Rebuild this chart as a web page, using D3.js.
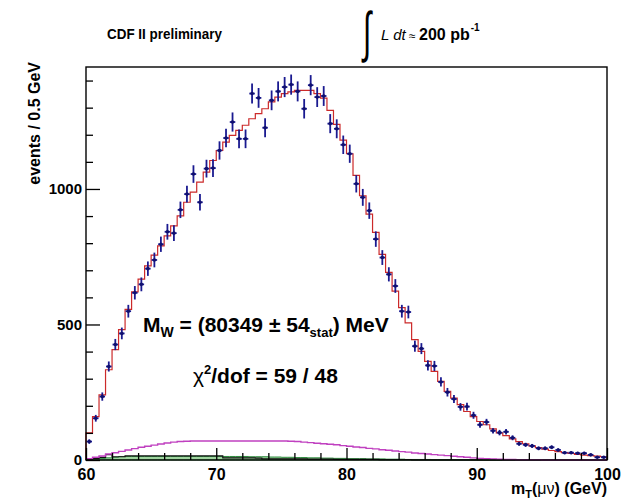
<!DOCTYPE html>
<html>
<head>
<meta charset="utf-8">
<script src="https://cdn.jsdelivr.net/npm/d3@7"></script>
<style>
  body { margin: 0; background: #fff; }
  text { font-family: "Liberation Sans", Arial, sans-serif; }
</style>
</head>
<body>
<div id="chart"></div>
<script>
// m_T bins: 60..100 GeV, 0.5 GeV wide
const binStart = 60;
const binWidth = 0.5;

// observed events per bin (blue points)
const dataCounts = [
  68, 154, 234, 345, 426, 467, 549, 617, 648, 706,
  738, 796, 842, 837, 923, 981, 1055, 951, 1075, 1077,
  1142, 1188, 1247, 1185, 1185, 1352, 1336, 1226, 1327, 1360,
  1376, 1385, 1360, 1296, 1383, 1339, 1343, 1241, 1222, 1163,
  1130, 1019, 969, 920, 815, 747, 685, 642, 549, 546,
  420, 411, 349, 347, 288, 250, 225, 196, 197, 165,
  130, 140, 108, 101, 104, 82, 60, 56, 52, 43,
  43, 47, 37, 27, 27, 25, 25, 19, 10, 10
];

// best fit template (red histogram)
const fitCounts = [
  100, 160, 240, 333, 407, 481, 556, 620, 667, 716,
  756, 790, 827, 864, 901, 951, 988, 1025, 1062, 1105,
  1142, 1173, 1198, 1216, 1235, 1259, 1278, 1296, 1321, 1339,
  1352, 1358, 1364, 1364, 1364, 1352, 1335, 1290, 1238, 1180,
  1130, 1050, 975, 907, 840, 759, 692, 623, 562, 506,
  444, 401, 364, 327, 290, 253, 228, 204, 179, 160,
  142, 130, 115, 100, 90, 78, 68, 60, 52, 46,
  40, 35, 31, 27, 24, 21, 18, 16, 14, 12
];

// backgrounds
const bkgMagenta = [
  5, 10, 15, 22, 27, 32, 37, 42, 47, 51,
  55, 59, 63, 66, 68, 69, 70, 70, 70, 70,
  70, 70, 70, 70, 70, 70, 70, 70, 70, 70,
  70, 69, 68, 66, 64, 62, 60, 58, 56, 53,
  51, 48, 46, 43, 41, 38, 36, 33, 31, 29,
  26, 24, 22, 20, 18, 16, 14, 12, 10, 8,
  6, 5, 4, 3, 2, 2, 1, 1, 1, 1,
  0, 0, 0, 0, 0, 0, 0, 0, 0, 0
];
const bkgGreen = [
  2, 4, 6, 8, 10, 13, 13, 13, 13, 13,
  13, 13, 13, 13, 13, 13, 13, 13, 13, 13,
  13, 13, 13, 13, 13, 12, 12, 12, 11, 11,
  10, 10, 9, 9, 8, 8, 7, 7, 6, 6,
  5, 5, 5, 4, 4, 4, 3, 3, 3, 2,
  2, 2, 2, 1, 1, 1, 1, 1, 1, 1,
  0, 0, 0, 0, 0, 0, 0, 0, 0, 0,
  0, 0, 0, 0, 0, 0, 0, 0, 0, 0
];
const bkgBlack = [
  3, 6, 10, 20, 12, 12, 15, 15, 15, 15,
  15, 15, 15, 15, 15, 15, 15, 15, 15, 15,
  15, 8, 8, 8, 8, 8, 7, 4, 4, 4,
  4, 4, 4, 4, 3, 3, 3, 3, 2, 2,
  2, 2, 2, 2, 2, 1, 1, 1, 1, 1,
  0, 0, 0, 0, 0, 0, 0, 0, 0, 0,
  0, 0, 0, 0, 0, 0, 0, 0, 0, 0,
  0, 0, 0, 0, 0, 0, 0, 0, 0, 0
];

const xMajorTicks = [60, 70, 80, 90, 100];
const xMinorTicks = [62, 64, 66, 68, 72, 74, 76, 78, 82, 84, 86, 88, 92, 94, 96, 98];
const yMajorTicks = [0, 500, 1000];
const yMinorTicks = [100, 200, 300, 400, 600, 700, 800, 900, 1100, 1200, 1300, 1400];

const width = 633;
const height = 502;
const margin = { left: 86, right: 26, top: 67, bottom: 42 };

const svg = d3.select("#chart")
  .append("svg")
  .attr("width", width)
  .attr("height", height);

const xScale = d3.scaleLinear()
  .domain([60, 100])
  .range([margin.left, width - margin.right]);

const yScale = d3.scaleLinear()
  .domain([0, 1450])
  .range([height - margin.bottom, margin.top]);

const binLo = i => binStart + i * binWidth;

// step line for a histogram
function stepPath(values) {
  const pts = [];
  values.forEach((v, i) => {
    pts.push([xScale(binLo(i)), yScale(v)]);
    pts.push([xScale(binLo(i + 1)), yScale(v)]);
  });
  return pts;
}
const line = d3.line();

const plot = svg.append("g");

// green background (filled)
const greenPts = stepPath(bkgGreen);
plot.append("path")
  .attr("d", d3.area()
    .x(d => d[0])
    .y0(yScale(0))
    .y1(d => d[1])(greenPts))
  .attr("fill", "#9fd49f")
  .attr("stroke", "#2e8b3e")
  .attr("stroke-width", 1);

plot.append("path")
  .attr("d", line(stepPath(bkgBlack)))
  .attr("fill", "none")
  .attr("stroke", "#111")
  .attr("stroke-width", 1.2);

plot.append("path")
  .attr("d", line(stepPath(bkgMagenta)))
  .attr("fill", "none")
  .attr("stroke", "#c040c0")
  .attr("stroke-width", 1.4);

plot.append("path")
  .attr("d", line([[xScale(60), yScale(0)], ...stepPath(fitCounts), [xScale(100), yScale(0)]]))
  .attr("fill", "none")
  .attr("stroke", "#cc2a2a")
  .attr("stroke-width", 1.2);

// data points with error bars
const pts = plot.append("g")
  .attr("stroke", "#1a1a90")
  .attr("stroke-width", 1.8);

dataCounts.forEach((n, i) => {
  const cx = xScale(binLo(i) + binWidth / 2);
  const err = Math.sqrt(n);
  pts.append("line")
    .attr("x1", xScale(binLo(i)) + 0.5)
    .attr("x2", xScale(binLo(i + 1)) - 0.5)
    .attr("y1", yScale(n))
    .attr("y2", yScale(n));
  pts.append("line")
    .attr("x1", cx).attr("x2", cx)
    .attr("y1", yScale(n - err))
    .attr("y2", yScale(n + err));
});
plot.append("g")
  .selectAll("circle")
  .data(dataCounts)
  .join("circle")
  .attr("cx", (d, i) => xScale(binLo(i) + binWidth / 2))
  .attr("cy", d => yScale(d))
  .attr("r", 1.8)
  .attr("fill", "#10106e");

// axes (ticks inward, ROOT style)
const xAxisMajor = svg.append("g")
  .attr("transform", `translate(0, ${yScale(0)})`)
  .call(d3.axisBottom(xScale).tickValues(xMajorTicks).tickSizeInner(-12).tickSizeOuter(0).tickPadding(9));
const xAxisMinor = svg.append("g")
  .attr("transform", `translate(0, ${yScale(0)})`)
  .call(d3.axisBottom(xScale).tickValues(xMinorTicks).tickSizeInner(-7).tickSizeOuter(0).tickFormat(""));
const yAxisMajor = svg.append("g")
  .attr("transform", `translate(${xScale(60)}, 0)`)
  .call(d3.axisLeft(yScale).tickValues(yMajorTicks).tickFormat(d3.format("d"))
    .tickSizeInner(-14).tickSizeOuter(0).tickPadding(4));
const yAxisMinor = svg.append("g")
  .attr("transform", `translate(${xScale(60)}, 0)`)
  .call(d3.axisLeft(yScale).tickValues(yMinorTicks).tickSizeInner(-7).tickSizeOuter(0).tickFormat(""));

[xAxisMajor, xAxisMinor, yAxisMajor, yAxisMinor].forEach(g => {
  g.select(".domain").remove();
  g.selectAll(".tick line").attr("stroke", "#000").attr("stroke-width", 1.3);
});
xAxisMajor.selectAll(".tick text")
  .attr("font-size", 16).attr("font-weight", "bold").attr("fill", "#000");
yAxisMajor.selectAll(".tick text")
  .attr("font-size", 15).attr("font-weight", "bold").attr("fill", "#000");

// frame
svg.append("rect")
  .attr("x", xScale(60))
  .attr("y", yScale(1450))
  .attr("width", xScale(100) - xScale(60))
  .attr("height", yScale(0) - yScale(1450))
  .attr("fill", "none")
  .attr("stroke", "#000")
  .attr("stroke-width", 1.4);

// titles
svg.append("text")
  .attr("x", 107).attr("y", 39)
  .attr("font-size", 15).attr("font-weight", "bold")
  .attr("textLength", 115).attr("lengthAdjust", "spacingAndGlyphs")
  .text("CDF II preliminary");

svg.append("text")
  .attr("transform", "translate(363, 51) scale(1, 1.85)")
  .attr("font-size", 30)
  .attr("font-family", "DejaVu Sans")
  .text("∫");

const lumi = svg.append("text").attr("x", 381).attr("y", 40).attr("font-size", 15);
lumi.append("tspan").attr("font-style", "italic").text("L dt");
lumi.append("tspan").attr("font-size", 12).text(" ≈ ");
lumi.append("tspan").attr("font-weight", "bold").attr("font-size", 16).text("200 pb");
lumi.append("tspan").attr("font-weight", "bold").attr("font-size", 10).attr("dx", 1).attr("dy", -9).text("-1");

// axis titles
const xTitle = svg.append("text")
  .attr("x", xScale(100)).attr("y", 494)
  .attr("text-anchor", "end")
  .attr("font-size", 16).attr("font-weight", "bold");
xTitle.append("tspan").text("m");
xTitle.append("tspan").attr("font-size", 11).attr("dy", 4).text("T");
xTitle.append("tspan").attr("dy", -4).text("(");
xTitle.append("tspan").attr("font-weight", "normal").text("μν");
xTitle.append("tspan").text(") (GeV)");

svg.append("text")
  .attr("transform", `translate(40, ${yScale(1450) - 5}) rotate(-90)`)
  .attr("text-anchor", "end")
  .attr("font-size", 16).attr("font-weight", "bold")
  .text("events / 0.5 GeV");

// fit result
const mw = svg.append("text")
  .attr("x", 143).attr("y", 332)
  .attr("font-size", 21).attr("font-weight", "bold");
mw.append("tspan").text("M");
mw.append("tspan").attr("font-size", 14).attr("dy", 5).text("W");
mw.append("tspan").attr("dy", -5).text(" = (80349 ± 54");
mw.append("tspan").attr("font-size", 13).attr("dy", 5).text("stat");
mw.append("tspan").attr("dy", -5).text(") MeV");

const chi = svg.append("text")
  .attr("x", 193).attr("y", 383)
  .attr("font-size", 21).attr("font-weight", "bold");
chi.append("tspan").attr("font-weight", "normal").text("χ");
chi.append("tspan").attr("font-size", 13).attr("dy", -9).text("2");
chi.append("tspan").attr("dy", 9).text("/dof = 59 / 48");
</script>
</body>
</html>
